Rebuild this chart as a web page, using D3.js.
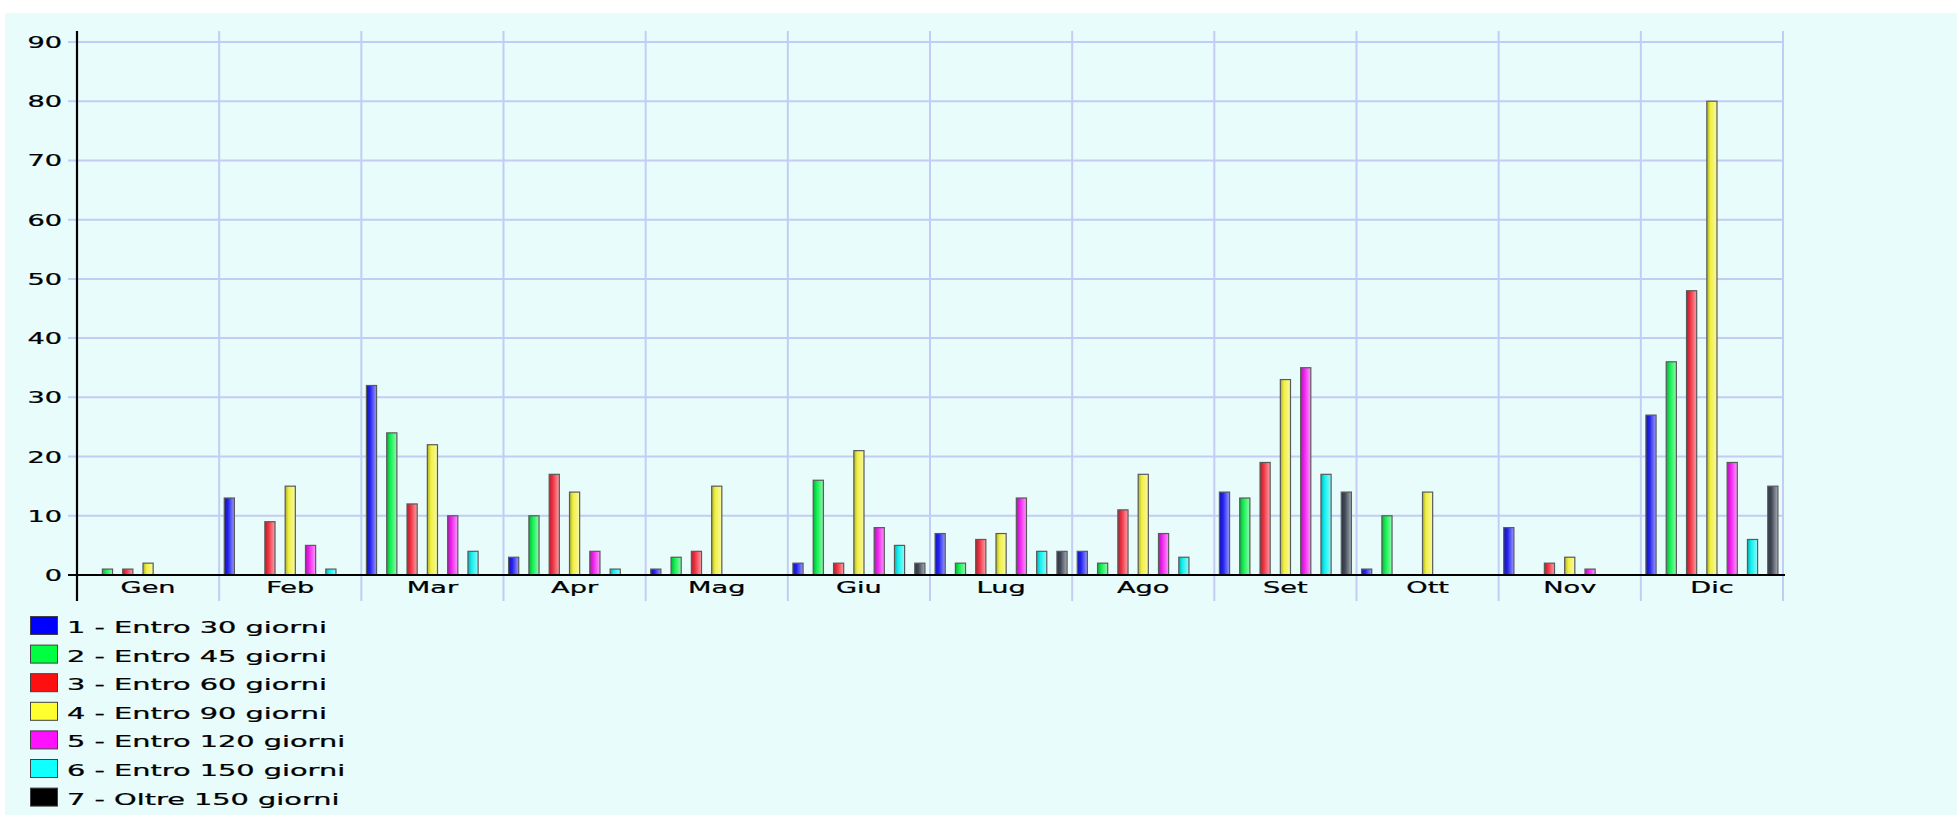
<!DOCTYPE html>
<html>
<head>
<meta charset="utf-8">
<script src="https://cdn.jsdelivr.net/npm/d3@7"></script>
<style>
  html, body { margin: 0; padding: 0; background: #ffffff; }
  svg { display: block; }
</style>
</head>
<body>
<svg id="chart" width="1957" height="815"></svg>
<script>
const months = ["Gen","Feb","Mar","Apr","Mag","Giu","Lug","Ago","Set","Ott","Nov","Dic"];
const seriesNames = ["1 - Entro 30 giorni","2 - Entro 45 giorni","3 - Entro 60 giorni","4 - Entro 90 giorni","5 - Entro 120 giorni","6 - Entro 150 giorni","7 - Oltre 150 giorni"];
const entro30  = [0,13,32,3,1,2,7,4,14,1,8,27];
const entro45  = [1,0,24,10,3,16,2,2,13,10,0,36];
const entro60  = [1,9,12,17,4,2,6,11,19,0,2,48];
const entro90  = [2,15,22,14,15,21,7,17,33,14,3,80];
const entro120 = [0,5,10,4,0,8,13,7,35,0,1,19];
const entro150 = [0,1,4,1,0,5,4,3,17,0,0,6];
const oltre150 = [0,0,0,0,0,2,4,0,14,0,0,15];
const yTicks = [0,10,20,30,40,50,60,70,80,90];

const seriesValues = [entro30, entro45, entro60, entro90, entro120, entro150, oltre150];
const baseColors = ["#0000ff","#00ff40","#ff1010","#ffff30","#ff10ff","#10ffff","#000000"];
const barBase   = ["#2020f0","#10f050","#f03040","#f0f040","#f020f0","#10f0f0","#404858"];

const svg = d3.select("#chart");
const defs = svg.append("defs");

// background
svg.append("rect").attr("x",5).attr("y",13).attr("width",1952).attr("height",802).attr("fill","#e8fcfc");

const x0 = d3.scaleBand().domain(months).range([77,1783]).padding(0);
const x1 = d3.scaleBand().domain(d3.range(7)).range([0,x0.bandwidth()]).paddingInner(0.5).paddingOuter(0.25);
const y = d3.scaleLinear().domain([0,90]).range([575,42]);

const gridColor = "#c4ccf6";
const sxAxis = 1.7;
const sxLeg = 1.8;
const fontFam = "DejaVu Sans, Verdana, sans-serif";

// horizontal grid lines
svg.append("g").selectAll("line").data(yTicks).join("line")
  .attr("x1",68).attr("x2",1783)
  .attr("y1",d=>y(d)).attr("y2",d=>y(d))
  .attr("stroke",gridColor).attr("stroke-width",2);

// vertical grid lines
const vlines = months.map(m=>x0(m)).concat([x0.range()[1]]);
svg.append("g").selectAll("line").data(vlines.slice(1)).join("line")
  .attr("x1",d=>d).attr("x2",d=>d)
  .attr("y1",31).attr("y2",601)
  .attr("stroke",gridColor).attr("stroke-width",2);

// gradients
barBase.forEach((c,i)=>{
  const g = defs.append("linearGradient").attr("id","g"+i).attr("x1","0").attr("x2","1").attr("y1","0").attr("y2","0");
  const col = d3.color(c);
  g.append("stop").attr("offset","0").attr("stop-color", col.darker(0.9).formatHex());
  g.append("stop").attr("offset","0.35").attr("stop-color", col.formatHex());
  g.append("stop").attr("offset","1").attr("stop-color", d3.interpolateRgb(c,"#ffffff")(0.55));
});

// bars
const gMonths = svg.append("g").selectAll("g").data(months).join("g")
  .attr("transform",m=>`translate(${x0(m)},0)`);
gMonths.selectAll("rect")
  .data((m,mi)=>seriesValues.map((s,si)=>({si, v:s[mi]})).filter(d=>d.v>0))
  .join("rect")
  .attr("x",d=>x1(d.si))
  .attr("width",x1.bandwidth())
  .attr("y",d=>y(d.v))
  .attr("height",d=>y(0)-y(d.v))
  .attr("fill",d=>`url(#g${d.si})`)
  .attr("stroke","#5a5a5a").attr("stroke-width",1.2);

// axes lines
svg.append("line").attr("x1",68).attr("x2",1785).attr("y1",y(0)).attr("y2",y(0)).attr("stroke","#000").attr("stroke-width",2);
svg.append("line").attr("x1",77).attr("x2",77).attr("y1",31).attr("y2",601).attr("stroke","#000").attr("stroke-width",2.2);

// y tick labels
svg.append("g").selectAll("text").data(yTicks).join("text")
  .attr("transform",d=>`translate(62,${y(d)+6}) scale(${sxAxis},1)`)
  .attr("text-anchor","end")
  .attr("font-family",fontFam)
  .attr("font-size",16)
  .attr("fill","#000").attr("stroke","#000").attr("stroke-width",0.25)
  .text(d=>d);

// month labels
svg.append("g").selectAll("text").data(months).join("text")
  .attr("transform",m=>`translate(${x0(m)+x0.bandwidth()/2},593) scale(${sxAxis},1)`)
  .attr("text-anchor","middle")
  .attr("font-family",fontFam)
  .attr("font-size",16)
  .attr("fill","#000").attr("stroke","#000").attr("stroke-width",0.25)
  .text(m=>m);

// legend
const leg = svg.append("g").selectAll("g").data(seriesNames).join("g")
  .attr("transform",(d,i)=>`translate(30,${616 + i*28.6})`);
leg.append("rect").attr("x",0.5).attr("y",0.5).attr("width",27).attr("height",18)
  .attr("fill",(d,i)=>baseColors[i]).attr("stroke","#404040").attr("stroke-width",1);
leg.append("text")
  .attr("transform",`translate(37,17) scale(${sxLeg},1)`)
  .attr("font-family",fontFam)
  .attr("font-size",16)
  .attr("fill","#000").attr("stroke","#000").attr("stroke-width",0.25)
  .text(d=>d);
</script>
</body>
</html>
